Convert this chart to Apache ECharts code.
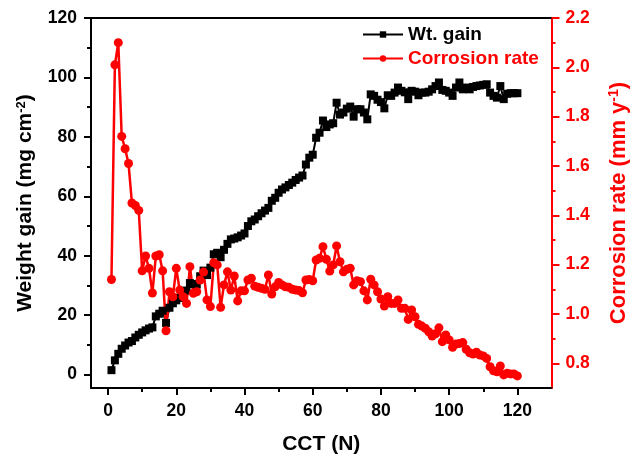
<!DOCTYPE html>
<html><head><meta charset="utf-8">
<script src="https://cdn.jsdelivr.net/npm/echarts@6/dist/echarts.min.js"></script>
<style>html,body{margin:0;padding:0;background:#fff}#c{width:630px;height:457px}</style>
</head><body><div id="c"></div>
<script>
const cct = [1,2,3,4,5,6,7,8,9,10,11,12,13,14,15,16,17,18,19,20,
  21,22,23,24,25,26,27,28,29,30,31,32,33,34,35,36,37,38,39,40,
  41,42,43,44,45,46,47,48,49,50,51,52,53,54,55,56,57,58,59,60,
  61,62,63,64,65,66,67,68,69,70,71,72,73,74,75,76,77,78,79,80,
  81,82,83,84,85,86,87,88,89,90,91,92,93,94,95,96,97,98,99,100,
  101,102,103,104,105,106,107,108,109,110,111,112,113,114,115,116,117,118,119,120];
const wtGain = [1.5,4.8,7.0,8.7,9.8,10.8,11.3,12.5,13.4,14.2,
  14.9,15.5,15.9,19.6,20.5,21.5,17.4,22.5,24.0,25.0,
  25.8,26.5,28.3,30.8,30.5,30.3,33.1,35.0,33.5,36.0,
  40.5,41.0,39.5,42.0,44.0,45.5,45.8,46.2,46.8,47.5,
  50.0,51.6,52.2,53.3,54.3,55.2,56.1,58.5,59.5,61.2,
  62.3,63.0,63.8,64.6,65.5,66.3,67.0,70.7,73.0,74.0,
  79.7,81.4,85.5,83.3,84.2,84.6,91.5,87.5,88.2,89.5,
  90.2,86.8,89.3,89.3,88.2,85.9,94.3,93.8,92.5,91.7,
  89.6,94.0,93.8,94.9,96.6,95.5,95.0,92.7,95.5,95.2,
  94.0,94.9,94.9,95.2,96.0,97.1,98.3,95.8,95.5,94.9,
  93.8,96.6,98.3,96.0,96.6,96.0,96.8,97.1,97.3,97.5,
  97.7,94.9,93.8,93.2,97.1,92.7,94.5,94.7,94.7,94.7];
const corrRate = [1.14,2.01,2.10,1.72,1.67,1.61,1.45,1.44,1.42,1.175,
  1.235,1.185,1.085,1.235,1.24,1.175,0.932,1.09,1.07,1.185,
  1.097,1.07,1.043,1.192,1.084,1.09,1.138,1.17,1.057,1.03,
  1.208,1.199,1.027,1.118,1.171,1.097,1.154,1.053,1.094,1.094,
  1.138,1.145,1.113,1.108,1.104,1.10,1.158,1.081,1.11,1.128,
  1.118,1.11,1.108,1.10,1.097,1.095,1.086,1.138,1.14,1.135,
  1.219,1.226,1.273,1.222,1.174,1.199,1.276,1.212,1.171,1.181,
  1.185,1.118,1.135,1.131,1.094,1.057,1.141,1.118,1.09,1.061,
  1.032,1.07,1.043,1.043,1.057,1.023,1.023,0.978,1.016,0.989,
  0.958,0.951,0.942,0.928,0.911,0.92,0.944,0.888,0.915,0.895,
  0.865,0.878,0.88,0.884,0.857,0.843,0.838,0.845,0.834,0.83,
  0.82,0.786,0.77,0.766,0.789,0.753,0.76,0.757,0.757,0.749];
const xTicks = [0,20,40,60,80,100,120];
const xMinorTicks = [10,30,50,70,90,110];
const leftTicks = [0,20,40,60,80,100,120];
const leftMinorTicks = [10,30,50,70,90,110];
const rightTicks = [0.8,1.0,1.2,1.4,1.6,1.8,2.0,2.2];
const rightMinorTicks = [0.9,1.1,1.3,1.5,1.7,1.9,2.1];

const FF = 'Arial, "Liberation Sans", Helvetica, sans-serif';
const RED = '#ff0000';
const chart = echarts.init(document.getElementById('c'), null, {renderer:'canvas'});
const lbl = (color, extra) => Object.assign({color, fontSize:17.5, fontWeight:'bold', fontFamily:FF}, extra||{});
const noSplit = {show:false};
const opt = {
  backgroundColor:'#fff',
  animation:false,
  grid:{left:91, right:78.5, top:18, bottom:69, containLabel:false, outerBoundsMode:'none'},
  legend:{
    orient:'vertical', left:357, top:20, itemWidth:40, itemHeight:8, itemGap:5,
    textStyle:{fontSize:19, fontWeight:'bold', fontFamily:FF},
    data:[{name:'Wt. gain', textStyle:{color:'#000'}},{name:'Corrosion rate', textStyle:{color:RED}}]
  },
  xAxis:[
    {type:'value', position:'bottom', min:-5, max:130,
     axisLine:{show:true, onZero:false, lineStyle:{color:'#000', width:2}},
     axisTick:{show:true, inside:false, length:7, customValues:xTicks, lineStyle:{color:'#000', width:2}},
     axisLabel:{customValues:xTicks, margin:14, ...lbl('#000')},
     splitLine:noSplit,
     name:'CCT (N)', nameLocation:'middle', nameGap:46,
     nameTextStyle:{color:'#000', fontSize:21, fontWeight:'bold', fontFamily:FF}},
    {type:'value', position:'bottom', min:-5, max:130,
     axisLine:{show:false, onZero:false},
     axisTick:{show:true, inside:false, length:4, customValues:xMinorTicks, lineStyle:{color:'#000', width:2}},
     axisLabel:{show:false}, splitLine:noSplit},
    {type:'value', position:'top', min:-5, max:130,
     axisLine:{show:true, onZero:false, lineStyle:{color:'#000', width:2}},
     axisTick:{show:false}, axisLabel:{show:false}, splitLine:noSplit}
  ],
  yAxis:[
    {type:'value', position:'left', min:-4.5, max:120,
     axisLine:{show:true, onZero:false, lineStyle:{color:'#000', width:2}},
     axisTick:{show:true, inside:false, length:7, customValues:leftTicks, lineStyle:{color:'#000', width:2}},
     axisLabel:{customValues:leftTicks, margin:14, ...lbl('#000')},
     splitLine:noSplit,
     name:'Weight gain (mg cm{sup|-2})', nameLocation:'middle', nameGap:55, nameRotate:90,
     nameTextStyle:{color:'#000', fontSize:21, fontWeight:'bold', fontFamily:FF,
       rich:{sup:{fontSize:13, fontWeight:'bold', fontFamily:FF, color:'#000', verticalAlign:'top'}}}},
    {type:'value', position:'left', min:-4.5, max:120,
     axisLine:{show:false, onZero:false},
     axisTick:{show:true, inside:false, length:4, customValues:leftMinorTicks, lineStyle:{color:'#000', width:2}},
     axisLabel:{show:false}, splitLine:noSplit},
    {type:'value', position:'right', min:0.7, max:2.2,
     axisLine:{show:true, onZero:false, lineStyle:{color:RED, width:2}},
     axisTick:{show:true, inside:false, length:8, customValues:rightTicks, lineStyle:{color:RED, width:2}},
     axisLabel:{customValues:rightTicks, margin:14, formatter:v=>v.toFixed(1), ...lbl(RED)},
     splitLine:noSplit,
     name:'Corrosion rate (mm y{sup|-1})', nameLocation:'middle', nameGap:56, nameRotate:90,
     nameTextStyle:{color:RED, fontSize:22, fontWeight:'bold', fontFamily:FF,
       rich:{sup:{fontSize:14, fontWeight:'bold', fontFamily:FF, color:RED, verticalAlign:'top'}}}},
    {type:'value', position:'right', min:0.7, max:2.2,
     axisLine:{show:false, onZero:false},
     axisTick:{show:true, inside:false, length:4, customValues:rightMinorTicks, lineStyle:{color:RED, width:2}},
     axisLabel:{show:false}, splitLine:noSplit}
  ],
  series:[
    {name:'Wt. gain', type:'line', xAxisIndex:0, yAxisIndex:0,
     data:cct.map((x,i)=>[x, wtGain[i]]),
     symbol:'rect', symbolSize:8, showAllSymbol:true,
     lineStyle:{color:'#000', width:2}, itemStyle:{color:'#000'}},
    {name:'Corrosion rate', type:'line', xAxisIndex:0, yAxisIndex:2,
     data:cct.map((x,i)=>[x, corrRate[i]]),
     symbol:'circle', symbolSize:9, showAllSymbol:true,
     lineStyle:{color:RED, width:2.5}, itemStyle:{color:RED}}
  ]
};
chart.setOption(opt);
</script></body></html>
